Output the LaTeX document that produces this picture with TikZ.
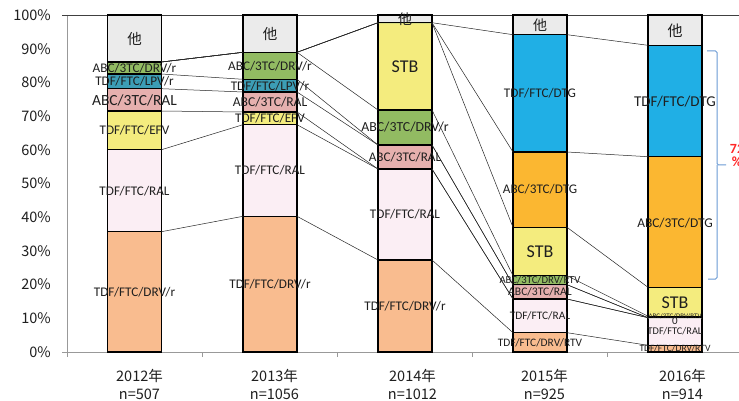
\documentclass[tikz,border=0pt]{standalone}
\usepackage{fontspec}
\setmainfont{Carlito}
\newfontfamily\jp{Noto Sans CJK JP}
\definecolor{ser1}{HTML}{F9BC8F}
\definecolor{ser2}{HTML}{FBEEF4}
\definecolor{ser3}{HTML}{F4EC7E}
\definecolor{ser4}{HTML}{E6B0AE}
\definecolor{ser5}{HTML}{3C9DB5}
\definecolor{ser6}{HTML}{92BB62}
\definecolor{ser7}{HTML}{F4EC7E}
\definecolor{ser8}{HTML}{FBB731}
\definecolor{ser9}{HTML}{20AFE5}
\definecolor{ser10}{HTML}{EBEBEB}
\definecolor{bracecol}{HTML}{6A9AD4}
\definecolor{redtxt}{HTML}{FF2626}
\begin{document}
\begin{tikzpicture}[x=1pt,y=-1pt,
  seg/.style={draw=black,line width=1.1pt},
  sline/.style={draw=black!85,line width=0.5pt},
  axisln/.style={draw=black!40,line width=0.9pt},
  lab/.style={inner sep=0pt,text=black!88,font=\fontsize{13.2}{13}\selectfont},
  labs/.style={inner sep=0pt,text=black!88,font=\fontsize{11.4}{11}\selectfont},
  stbl/.style={inner sep=0pt,text=black!88,font=\fontsize{18}{18}\selectfont},
  oth/.style={inner sep=0pt,text=black!88,font=\jp\fontsize{14.5}{15}\selectfont},
  ylab/.style={inner sep=0pt,anchor=east,text=black!88,font=\jp\fontsize{14.5}{15}\selectfont},
  cat/.style={inner sep=0pt,align=center,text=black!88,font=\jp\fontsize{14.5}{18}\selectfont}]
\useasboundingbox (0,0) rectangle (739,401);
\fill[white] (0,0) rectangle (739,401);
% axes
\draw[axisln] (62,352) -- (739,352);
\draw[axisln] (67,15) -- (67,352);
\foreach \tx in {67,202,337,472,607} \draw[axisln] (\tx,352) -- (\tx,357);
\draw[draw=black!75,line width=0.8pt] (62,15) -- (739,15);
\foreach \pc in {0,10,...,100} \node[ylab] (y\pc) at (51,352-3.37*\pc) {\pc\%};
% bars
\foreach \b/\cx/\vals in {
 1/134.5/{231.7,149.7,111,88.7,74,62,62,62,62,15},
 2/270/{216.3,124.7,112,92,79.3,52.3,52.3,52.3,52.3,15},
 3/405/{260,169,169,145,145,110,22.7,22.7,22.7,15},
 4/540/{332.7,299,299,284.7,284.7,275.7,227.3,152,34.7,15},
 5/675/{345.3,317.7,317.7,317.7,317.7,316.2,287.3,156.7,45.3,15}}
{
  \foreach \v [count=\k, remember=\v as \p (initially 352)] in \vals {
    \filldraw[seg, fill=ser\k] (\cx-27,\p) rectangle (\cx+27,\v);
    \coordinate (L\b-\k) at (\cx-27,\v);
    \coordinate (R\b-\k) at (\cx+27,\v);
  }
}
% series lines
\foreach \b [evaluate=\b as \n using int(\b+1)] in {1,...,4} {
  \foreach \k in {1,...,9} { \draw[sline] (R\b-\k) -- (L\n-\k); }
}
% 2012
\node[oth] (a10) at (134.5,38.5) {他};
\node[lab] (a6) at (134.5,68) {ABC/3TC/DRV/r};
\node[lab] (a5) at (134.5,81.5) {TDF/FTC/LPV/r};
\node[lab,font=\fontsize{15.5}{15}\selectfont] (a4) at (134.5,100) {ABC/3TC/RAL};
\node[lab] (a3) at (134.5,130.3) {TDF/FTC/EFV};
\node[lab] (a2) at (134.5,190.7) {TDF/FTC/RAL};
\node[lab] (a1) at (134.5,292) {TDF/FTC/DRV/r};
% 2013
\node[oth] (b10) at (270,34) {他};
\node[lab] (b6) at (270,66.5) {ABC/3TC/DRV/r};
\node[lab] (b5) at (270,86.5) {TDF/FTC/LPV/r};
\node[lab,font=\fontsize{13.6}{13}\selectfont] (b4) at (270,102.5) {ABC/3TC/RAL};
\node[lab] (b3) at (270,118.5) {TDF/FTC/EFV};
\node[lab] (b2) at (270,170.5) {TDF/FTC/RAL};
\node[lab] (b1) at (270,284.5) {TDF/FTC/DRV/r};
% 2014
\node[oth,font=\jp\fontsize{14}{14}\selectfont] (c10) at (405,19.5) {他};
\node[stbl] (c7) at (405,66.5) {STB};
\node[lab,font=\fontsize{13.8}{13}\selectfont] (c6) at (405,127.5) {ABC/3TC/DRV/r};
\node[lab] (c4) at (405,157) {ABC/3TC/RAL};
\node[lab] (c2) at (405,214.5) {TDF/FTC/RAL};
\node[lab] (c1) at (405,306.5) {TDF/FTC/DRV/r};
% 2015
\node[oth,font=\jp\fontsize{14}{14}\selectfont] (d10) at (540,25.5) {他};
\node[lab] (d9) at (540,93.5) {TDF/FTC/DTG};
\node[lab] (d8) at (540,189.5) {ABC/3TC/DTG};
\node[stbl] (d7) at (540,251.5) {STB};
\node[labs,font=\fontsize{10.7}{10}\selectfont] (d6) at (540,280) {ABC/3TC/DRV/RTV};
\node[labs,font=\fontsize{11.6}{11}\selectfont] (d4) at (540,291.8) {ABC/3TC/RAL};
\node[labs] (d2) at (540,316) {TDF/FTC/RAL};
\node[labs] (d1) at (540,343) {TDF/FTC/DRV/RTV};
% 2016
\node[oth,font=\jp\fontsize{15}{15}\selectfont] (e10) at (675,31) {他};
\node[lab,font=\fontsize{15}{15}\selectfont] (e9) at (675,101.5) {TDF/FTC/DTG};
\node[lab,font=\fontsize{13.4}{13}\selectfont] (e8) at (675,223) {ABC/3TC/DTG};
\node[stbl] (e7) at (675,302.5) {STB};
\node[labs,font=\fontsize{7}{7}\selectfont] (e6) at (675,316.5) {ABC/3TC/DRV/RTV};
\node[labs,font=\fontsize{11}{11}\selectfont] (e4) at (675,320.5) {0};
\node[labs,font=\fontsize{10.3}{10}\selectfont] (e2) at (675,331.5) {TDF/FTC/RAL};
\node[labs,font=\fontsize{9.6}{9}\selectfont] (e1) at (675,348.5) {TDF/FTC/DRV/RTV};
% categories
\node[cat] (k1) at (139.5,384) {2012年\\n=507};
\node[cat] (k2) at (274.5,384) {2013年\\n=1056};
\node[cat] (k3) at (412.5,384) {2014年\\n=1012};
\node[cat] (k4) at (544.5,384) {2015年\\n=925};
\node[cat] (k5) at (682.5,384) {2016年\\n=914};
% brace
\coordinate (bt) at (707,51);
\coordinate (bm) at (726,165);
\coordinate (bb) at (708,279);
\draw[bracecol,line width=1pt,rounded corners=1.5pt] (bt) -| (717,165) -- (bm);
\draw[bracecol,line width=1pt,rounded corners=1.5pt] (717,165) |- (bb);
\node[inner sep=0pt,align=center,text=redtxt,font=\bfseries\fontsize{14}{13}\selectfont] (pct) at (737,155) {72\\\%};
\end{tikzpicture}
\end{document}
